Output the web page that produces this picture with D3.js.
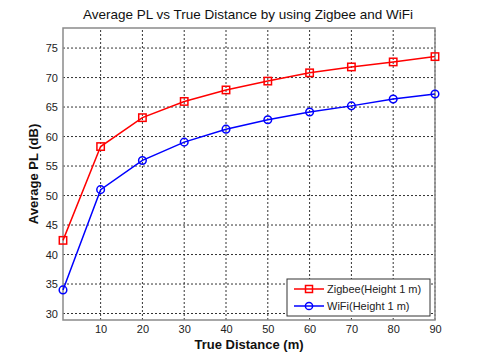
<!DOCTYPE html>
<html lang="en">
<head>
    <meta charset="UTF-8">
    <title>Average PL vs True Distance</title>
    <script src="https://d3js.org/d3.v7.min.js"></script>
    <style>
        body { margin: 0; background: white; font-family: "Liberation Sans", Arial, sans-serif; }
        .tick text { font-size: 11px; fill: #222; }
    </style>
</head>
<body>
    <svg id="chart" width="480" height="360"></svg>
    <script>
        // data
        let distance = [1, 10, 20, 30, 40, 50, 60, 70, 80, 90]
        let zigbee = [42.4, 58.3, 63.2, 65.95, 67.9, 69.4, 70.8, 71.8, 72.65, 73.55]
        let wifi = [34.0, 51.0, 55.95, 59.05, 61.25, 62.85, 64.15, 65.2, 66.35, 67.2]
        let xTicks = [10, 20, 30, 40, 50, 60, 70, 80, 90]
        let yTicks = [30, 35, 40, 45, 50, 55, 60, 65, 70, 75]

        let margin = { left: 63, right: 45, top: 28, bottom: 40 }
        let width = 480, height = 360

        let svg = d3.select("#chart")
        let x = d3.scaleLinear().domain([1, 90]).range([margin.left, width - margin.right])
        let y = d3.scaleLinear().domain([28.9, 78.4]).range([height - margin.bottom, margin.top])

        // grid
        let grid = svg.append("g")
        grid.selectAll(".vg").data(xTicks).enter().append("line")
            .attr("x1", d => x(d)).attr("x2", d => x(d))
            .attr("y1", y.range()[0]).attr("y2", y.range()[1])
            .attr("stroke", "#333").attr("stroke-width", 1).attr("stroke-dasharray", "2,2")
        grid.selectAll(".hg").data(yTicks).enter().append("line")
            .attr("y1", d => y(d)).attr("y2", d => y(d))
            .attr("x1", x.range()[0]).attr("x2", x.range()[1])
            .attr("stroke", "#333").attr("stroke-width", 1).attr("stroke-dasharray", "2,2")

        // frame
        svg.append("rect")
            .attr("x", x.range()[0]).attr("y", y.range()[1])
            .attr("width", x.range()[1] - x.range()[0])
            .attr("height", y.range()[0] - y.range()[1])
            .attr("fill", "none").attr("stroke", "#8a8a8a").attr("stroke-width", 1.5)

        // axes
        let xAxis = svg.append("g")
            .attr("transform", "translate(0," + y.range()[0] + ")")
            .call(d3.axisBottom(x).tickValues(xTicks).tickSize(0).tickPadding(5))
        let yAxis = svg.append("g")
            .attr("transform", "translate(" + x.range()[0] + ",0)")
            .call(d3.axisLeft(y).tickValues(yTicks).tickSize(0).tickPadding(5))
        xAxis.select(".domain").remove()
        yAxis.select(".domain").remove()

        // series
        let line = d3.line().x(d => x(d[0])).y(d => y(d[1]))
        let series = [
            { name: "Zigbee(Height 1 m)", values: zigbee, color: "#ff0000", marker: "square" },
            { name: "WiFi(Height 1 m)", values: wifi, color: "#0000ff", marker: "circle" }
        ]
        series.forEach(s => {
            let pts = distance.map((d, i) => [d, s.values[i]])
            svg.append("path").datum(pts)
                .attr("d", line).attr("fill", "none")
                .attr("stroke", s.color).attr("stroke-width", 1.5)
            let g = svg.append("g")
            if (s.marker == "square") {
                g.selectAll("rect").data(pts).enter().append("rect")
                    .attr("x", d => x(d[0]) - 3.7).attr("y", d => y(d[1]) - 3.7)
                    .attr("width", 7.4).attr("height", 7.4)
                    .attr("fill", "none").attr("stroke", s.color).attr("stroke-width", 1.5)
            } else {
                g.selectAll("circle").data(pts).enter().append("circle")
                    .attr("cx", d => x(d[0])).attr("cy", d => y(d[1])).attr("r", 3.8)
                    .attr("fill", "none").attr("stroke", s.color).attr("stroke-width", 1.5)
            }
        })

        // legend
        let lg = svg.append("g").attr("transform", "translate(287,279)")
        lg.append("rect").attr("width", 143).attr("height", 37)
            .attr("fill", "white").attr("stroke", "#333").attr("stroke-width", 1)
        series.forEach((s, i) => {
            let yy = 10 + i * 17
            lg.append("line").attr("x1", 7).attr("x2", 37).attr("y1", yy).attr("y2", yy)
                .attr("stroke", s.color).attr("stroke-width", 1.5)
            if (s.marker == "square") {
                lg.append("rect").attr("x", 18.5).attr("y", yy - 3.5).attr("width", 7).attr("height", 7)
                    .attr("fill", "none").attr("stroke", s.color).attr("stroke-width", 1.5)
            } else {
                lg.append("circle").attr("cx", 22).attr("cy", yy).attr("r", 3.6)
                    .attr("fill", "none").attr("stroke", s.color).attr("stroke-width", 1.5)
            }
            lg.append("text").attr("x", 40).attr("y", yy + 4)
                .attr("font-size", "11px").attr("fill", "#222").text(s.name)
        })

        // titles
        svg.append("text").attr("x", 248).attr("y", 19).attr("text-anchor", "middle")
            .attr("font-size", "13.5px").attr("fill", "#111")
            .text("Average PL vs True Distance by using Zigbee and WiFi")
        svg.append("text").attr("x", 249).attr("y", 349).attr("text-anchor", "middle")
            .attr("font-size", "13px").attr("font-weight", "bold").attr("fill", "#111")
            .text("True Distance (m)")
        svg.append("text").attr("transform", "translate(38,174) rotate(-90)")
            .attr("text-anchor", "middle")
            .attr("font-size", "13px").attr("font-weight", "bold").attr("fill", "#111")
            .text("Average PL (dB)")
    </script>
</body>
</html>
